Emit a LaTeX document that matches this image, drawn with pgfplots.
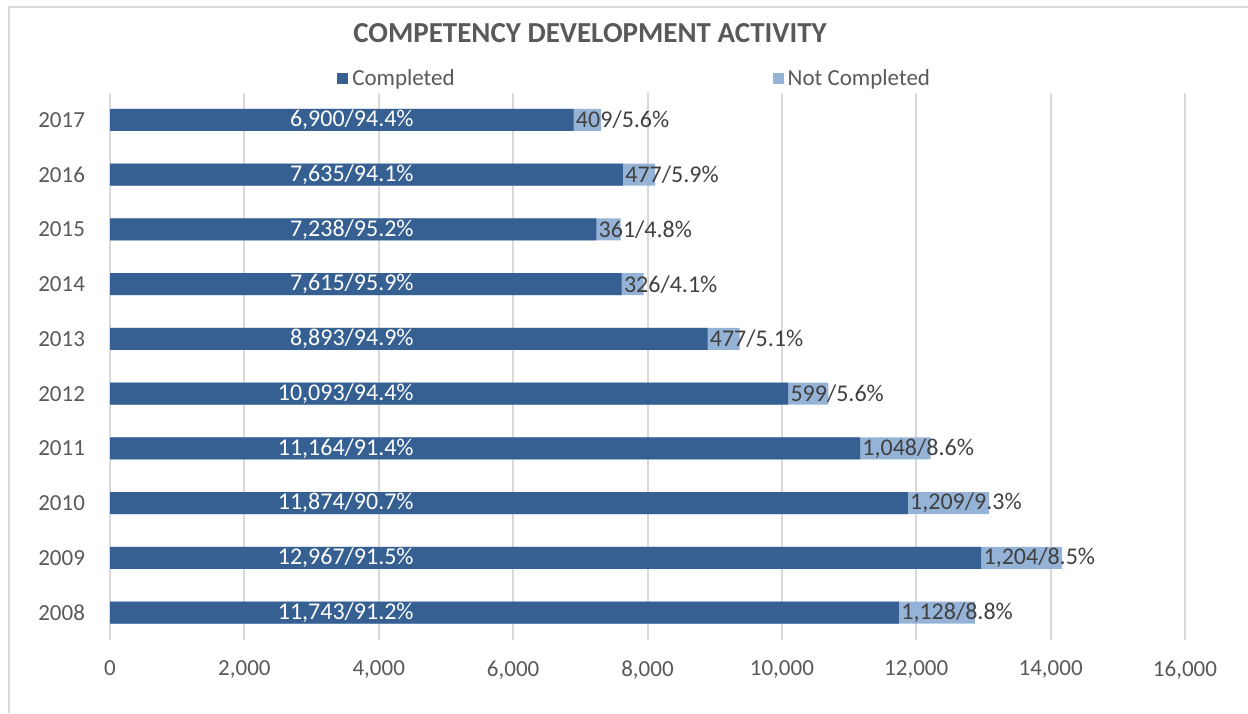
\documentclass[border=0pt]{standalone}
\usepackage{pgfplots}
\pgfplotsset{compat=1.18}
\usepackage{pgfplotstable}
\usepackage{fontspec}
\setmainfont{Carlito}
\definecolor{done}{HTML}{366092}
\definecolor{notdone}{HTML}{95B3D7}
\definecolor{txt}{HTML}{595959}
\definecolor{grd}{HTML}{D9D9D9}
\definecolor{lbl}{HTML}{404040}

% c = completed, n = not completed, cp/np = shares in percent
\pgfplotstableread{
year c     n    cp   np
2008 11743 1128 91.2 8.8
2009 12967 1204 91.5 8.5
2010 11874 1209 90.7 9.3
2011 11164 1048 91.4 8.6
2012 10093 599  94.4 5.6
2013 8893  477  94.9 5.1
2014 7615  326  95.9 4.1
2015 7238  361  95.2 4.8
2016 7635  477  94.1 5.9
2017 6900  409  94.4 5.6
}\cda

\newcommand\lblfont{\fontsize{11.5}{13}\selectfont}
\newcommand\barfont{\fontsize{12}{14}\selectfont}

\begin{document}
\begin{tikzpicture}
\begin{axis}[
    at={(55pt,36.5pt)}, anchor=south west,
    scale only axis, width=537.5pt, height=273.7pt,
    xmin=0, xmax=16000, ymin=2007.5, ymax=2017.5,
    xtick={0,2000,...,16000}, ytick={2008,...,2017},
    scaled x ticks=false,
    xmajorgrids, major grid style={grd, line width=1pt},
    axis line style={draw=none}, major tick length=0pt,
    /pgf/number format/assume math mode=true,
    /pgf/number format/1000 sep={,},
    yticklabel style={/pgf/number format/1000 sep={}, xshift=-9pt},
    xticklabel style={yshift=-7pt},
    tick label style={font=\lblfont, text=txt},
    legend columns=2,
    legend style={at={(0.489,1.025)}, anchor=center, draw=none, fill=none,
        font=\lblfont, text=txt,
        /tikz/every even column/.append style={column sep=157pt}},
    legend image code/.code={\fill[#1, draw=none] (0pt,-2.75pt) rectangle (5.5pt,2.75pt);},
]
\addlegendimage{fill=done, draw=none}
\addlegendimage{fill=notdone, draw=none}
% total bar (completed + not completed) behind, completed bar in front
\addplot[forget plot, xbar, bar width=11pt, bar shift=0pt, fill=notdone, draw=none]
    table[x expr=\thisrow{c}+\thisrow{n}, y=year] {\cda};
\addplot[forget plot, xbar, bar width=11pt, bar shift=0pt, fill=done, draw=none]
    table[x=c, y=year] {\cda};
% labels: completed ones end at a common position, as in the source chart
\addplot[forget plot, draw=none, mark=none,
    visualization depends on={\thisrow{c} \as \cval},
    visualization depends on={\thisrow{cp} \as \cpval},
    nodes near coords={\pgfmathprintnumber{\cval}/\pgfmathprintnumber[fixed,fixed zerofill,precision=1]{\cpval}\%},
    nodes near coords style={anchor=east, inner sep=0pt, text=white, font=\barfont},
] table[x expr=4525, y=year] {\cda};
\addplot[forget plot, draw=none, mark=none,
    visualization depends on={\thisrow{n} \as \nval},
    visualization depends on={\thisrow{np} \as \npval},
    nodes near coords={\pgfmathprintnumber{\nval}/\pgfmathprintnumber[fixed,fixed zerofill,precision=1]{\npval}\%},
    nodes near coords style={anchor=west, inner sep=1pt, text=lbl, font=\barfont},
] table[x=c, y=year] {\cda};
\legend{Completed, Not Completed}
\end{axis}
\node[font=\bfseries\fontsize{14.5}{16}\selectfont, text=txt] at (295pt,340pt) {COMPETENCY DEVELOPMENT ACTIVITY};
\draw[grd, line width=0.75pt] (4.5pt,0pt) -- (4.5pt,353pt) -- (624pt,353pt);
\pgfresetboundingbox
\path[use as bounding box] (0,0) rectangle (624pt,356.5pt);
\end{tikzpicture}
\end{document}
